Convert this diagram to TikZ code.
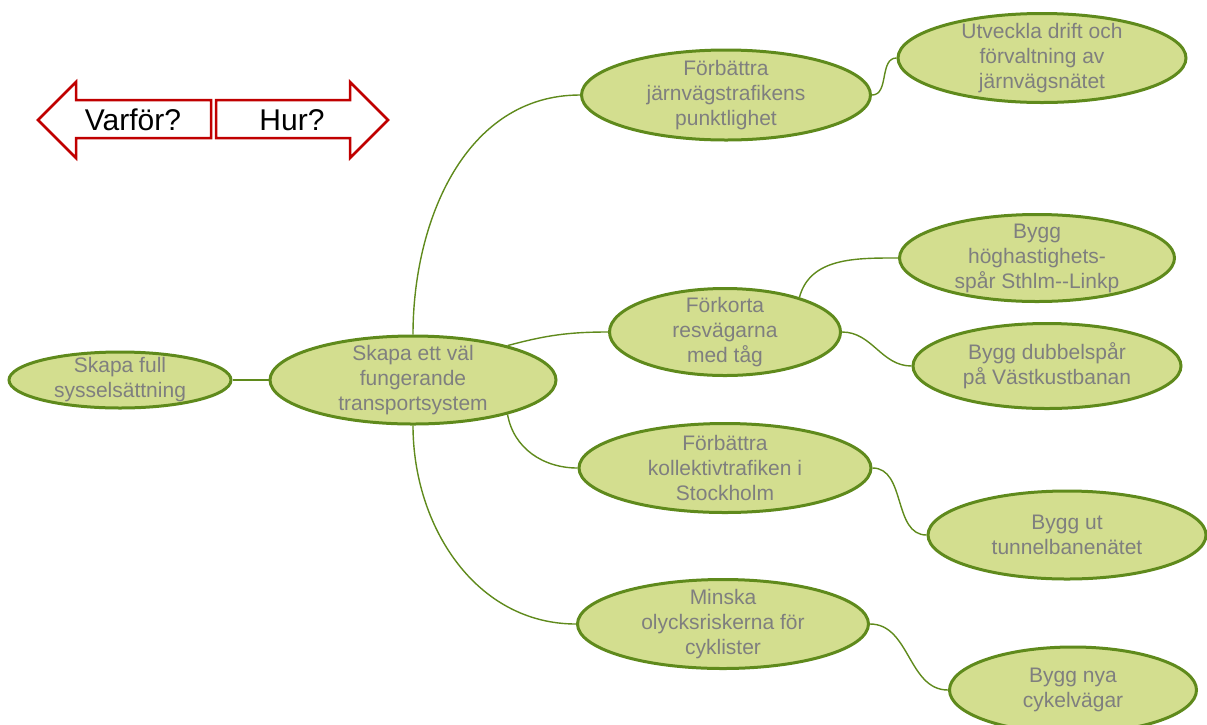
\documentclass[tikz,border=0pt]{standalone}
\usepackage{fontspec}
\setmainfont{Liberation Sans}
\usetikzlibrary{shapes,positioning}
\definecolor{leaf}{HTML}{D3DE8F}
\definecolor{stem}{HTML}{5F8A1C}
\definecolor{ink}{HTML}{7F7F7F}
\definecolor{signred}{HTML}{C00000}

\begin{document}
\begin{tikzpicture}[x=1pt, y=-1pt, line width=1.4pt,
	goal/.style={ellipse, draw=stem, fill=leaf, line width=3pt, inner sep=0pt},
	goaltext/.style={text=ink, align=center, inner sep=0pt, font=\fontsize{21}{25}\selectfont},
	link/.style={draw=stem, line width=1.4pt},
	sign/.style={draw=signred, fill=white, line width=2.5pt, line join=miter},
	signtext/.style={inner sep=0pt, font=\fontsize{30}{34}\selectfont}]
	
	\useasboundingbox (0,0) rectangle (1207,724);
	
	% why / how arrows
	\draw [sign] (211,100) -- (76,100) -- (76,82) -- (38,120) -- (76,158) -- (76,138) -- (211,138) -- cycle;
	\draw [sign] (216,100) -- (350,100) -- (350,82) -- (388,120) -- (350,158) -- (350,138) -- (216,138) -- cycle;
	\node [signtext] (why) at (133,120) {Varför?};
	\node [signtext] (how) at (292,120) {Hur?};
	
	% goals
	\node [goal, minimum width=222pt, minimum height=56pt] (full) at (120,380) {};
	\node [goal, minimum width=286pt, minimum height=88pt] (central) at (413,380) {};
	
	\node [goal, minimum width=289pt, minimum height=90pt] (rail) at (726,95) {};
	\node [goal, minimum width=288pt, minimum height=89pt] (maint) at (1042,58) {};
	
	\node [goal, minimum width=231pt, minimum height=87pt] (short) at (725,332) {};
	\node [goal, minimum width=275pt, minimum height=87pt] (hsr) at (1037,258) {};
	\node [goal, minimum width=268pt, minimum height=85pt] (double) at (1047,366) {};
	
	\node [goal, minimum width=292pt, minimum height=89pt] (transit) at (725,468) {};
	\node [goal, minimum width=278pt, minimum height=88pt] (metro) at (1067,535) {};
	
	\node [goal, minimum width=291pt, minimum height=89pt] (cycle) at (723,624) {};
	\node [goal, minimum width=247pt, minimum height=86pt] (bikeway) at (1073,690) {};
	
	% texts
	\node [goaltext] (fulltext) at (full) {Skapa full\\sysselsättning};
	\node [goaltext] (centraltext) at (central) {Skapa ett väl\\fungerande\\transportsystem};
	\node [goaltext] (railtext) at (rail) {Förbättra\\järnvägstrafikens\\punktlighet};
	\node [goaltext] (mainttext) at (maint) {Utveckla drift och\\förvaltning av\\järnvägsnätet};
	\node [goaltext] (shorttext) at (short) {Förkorta\\resvägarna\\med tåg};
	\node [goaltext] (hsrtext) at (hsr) {Bygg\\höghastighets-\\spår Sthlm-{}-Linkp};
	\node [goaltext] (doubletext) at (double) {Bygg dubbelspår\\på Västkustbanan};
	\node [goaltext] (transittext) at (transit) {Förbättra\\kollektivtrafiken i\\Stockholm};
	\node [goaltext] (metrotext) at (metro) {Bygg ut\\tunnelbanenätet};
	\node [goaltext] (cycletext) at (cycle) {Minska\\olycksriskerna för\\cyklister};
	\node [goaltext] (bikewaytext) at (bikeway) {Bygg nya\\cykelvägar};
	
	% links
	\path [link] (full.east) -- (central.west);
	\path [link] (central.north) to[out=90, in=180] (rail.west);
	\path [link] (central.20) to[out=15, in=180] (short.west);
	\path [link] (central.-20) to[out=-80, in=180] (transit.west);
	\path [link] (central.south) to[out=-90, in=180] (cycle.west);
	\path [link] (rail.east) to[out=0, in=180] (maint.west);
	\path [link] (short.25) to[out=75, in=180] (hsr.west);
	\path [link] (short.east) to[out=0, in=180] (double.west);
	\path [link] (transit.east) to[out=0, in=180] (metro.west);
	\path [link] (cycle.east) to[out=0, in=180] (bikeway.west);
\end{tikzpicture}
\end{document}
